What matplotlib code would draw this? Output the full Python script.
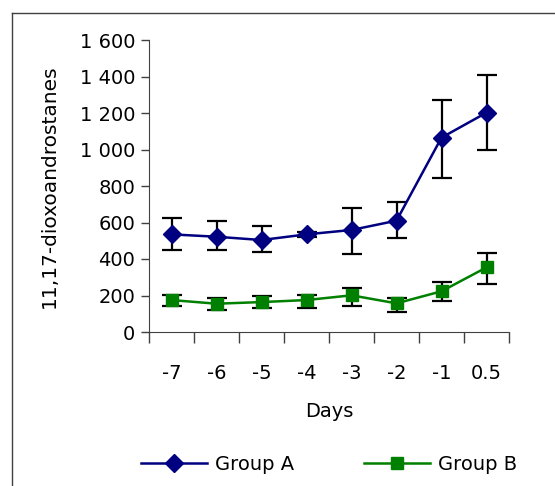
import matplotlib
matplotlib.use('Agg')
import matplotlib.pyplot as plt
from matplotlib.lines import Line2D
from matplotlib.ticker import FuncFormatter, FixedLocator
import numpy as np

# Datos
days = ['-7', '-6', '-5', '-4', '-3', '-2', '-1', '0.5']
group_a = [535, 522, 504, 535, 559, 610, 1065, 1202]
group_a_low = [447, 447, 437, 520, 426, 513, 842, 995]
group_a_high = [623, 610, 579, 546, 678, 711, 1271, 1410]
group_b = [175, 155, 164, 175, 201, 157, 223, 354]
group_b_low = [142, 119, 130, 133, 142, 108, 172, 261]
group_b_high = [205, 184, 197, 205, 239, 186, 272, 435]

W, H = 555, 486
fig = plt.figure(figsize=(W / 100, H / 100), dpi=100)
ax = fig.add_axes([149 / W, 1 - 332 / H, (509 - 149) / W, (332 - 40) / H])

x = np.arange(len(days))


def draw(vals, low, high, color, marker, ms, label):
    v = np.array(vals)
    err = [v - np.array(low), np.array(high) - v]
    ax.errorbar(x, v, yerr=err, fmt='none', ecolor='black', elinewidth=1.6,
                capsize=7, capthick=1.6, zorder=2)
    ax.plot(x, v, color=color, marker=marker, markersize=ms, linewidth=1.8,
            label=label, zorder=3)


draw(group_a, group_a_low, group_a_high, '#000080', 'D', 9, 'Group A')
draw(group_b, group_b_low, group_b_high, '#008000', 's', 8.5, 'Group B')

ax.set_xlim(-0.5, len(days) - 0.5)
ax.set_ylim(0, 1600)
ax.set_yticks(range(0, 1601, 200))
ax.yaxis.set_major_formatter(FuncFormatter(lambda v, p: f"{int(v):,}".replace(',', ' ')))

ax.xaxis.set_major_locator(FixedLocator(np.arange(-0.5, len(days), 1.0)))
ax.xaxis.set_minor_locator(FixedLocator(x))
ax.set_xticklabels([], minor=False)
ax.set_xticklabels(days, minor=True)
ax.tick_params(axis='x', which='major', length=8, width=1, direction='out', color='#404040')
ax.tick_params(axis='x', which='minor', length=0, pad=23, labelsize=14)
ax.tick_params(axis='y', length=6, width=1, direction='out', color='#404040', labelsize=14, pad=4)

for s in ['top', 'right']:
    ax.spines[s].set_visible(False)
for s in ['left', 'bottom']:
    ax.spines[s].set_color('#404040')

ax.set_xlabel('Days', fontsize=14, labelpad=14)
ax.set_ylabel('11,17-dioxoandrostanes', fontsize=14.5, labelpad=15)

ax.legend(loc='upper center', bbox_to_anchor=(0.5, -0.36), ncol=2, frameon=False,
          fontsize=14, handlelength=3.4, columnspacing=3.6, handletextpad=0.4)

# marco de la figura (solo arriba e izquierda visibles)
fig.add_artist(Line2D([12 / W, 1], [1 - 13 / H, 1 - 13 / H], color='#404040', linewidth=1))
fig.add_artist(Line2D([12 / W, 12 / W], [0, 1 - 13 / H], color='#404040', linewidth=1))

fig.savefig('out.png', dpi=100)
